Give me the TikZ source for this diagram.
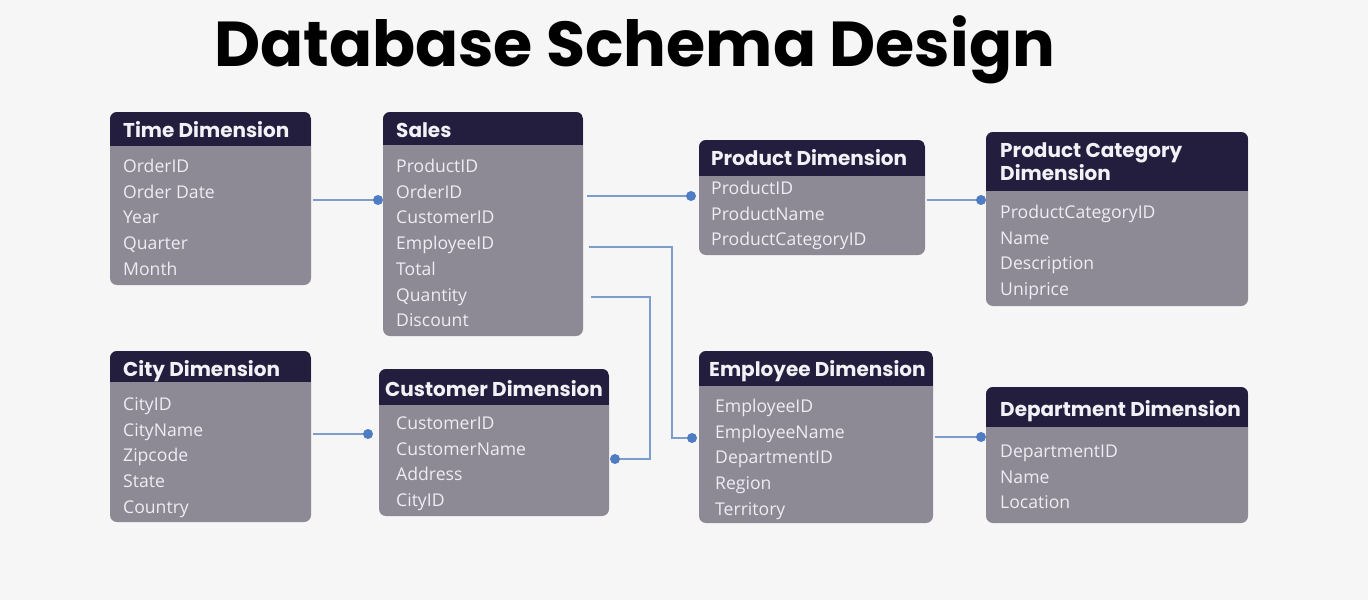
\documentclass[tikz,border=0pt]{standalone}
\usepackage{fontspec}
\setmainfont{Open Sans}
\newfontfamily\headfont{Poppins}
\definecolor{bg}{HTML}{F6F6F7}
\definecolor{tblbody}{HTML}{8D8995}
\definecolor{tblhead}{HTML}{241E3E}
\definecolor{fieldtxt}{HTML}{EEEDF2}
\definecolor{headtxt}{HTML}{F2F1F6}
\definecolor{linkc}{HTML}{7D9DCB}
\definecolor{dotc}{HTML}{4F7CC2}

% one row node per field, 25.7pt apart
\newcommand\fieldrows[4]{%
  \foreach \t [count=\i] in {#4}{%
    \node[field] (#1-\i) at (#2,{#3+25.7*(\i-1)}) {\t};}}

\begin{document}
\begin{tikzpicture}[x=1pt,y=-1pt,
  tbl/.style={anchor=north west, inner sep=0pt, outer sep=0pt, fill=tblbody,
    rounded corners=7pt,
    path picture={\fill[tblhead, sharp corners]
      ([yshift=1pt]path picture bounding box.north west) rectangle
      ([yshift=-#1pt]path picture bounding box.north east);}},
  head/.style={anchor=base west, inner sep=0pt, text=headtxt,
    font=\headfont\bfseries\fontsize{20}{24}\selectfont},
  field/.style={anchor=base west, inner sep=0pt, text=fieldtxt,
    font=\fontsize{17.6}{20}\selectfont},
  title/.style={anchor=base, inner sep=0pt, text=black,
    font=\headfont\bfseries\fontsize{63.5}{72}\selectfont},
  link/.style={draw=linkc, line width=2.4pt},
  dot/.style={fill=dotc}
]
% canvas
\fill[bg] (0,0) rectangle (1368,600);
\useasboundingbox (0,0) rectangle (1368,600);

\node[title] (title) at (634.5,66.7) {Database Schema Design};

% tables
\node[tbl={34}, minimum width=201pt, minimum height=173pt] (time)  at (110,112) {};
\node[tbl={33}, minimum width=200pt, minimum height=224pt] (sales) at (383,112) {};
\node[tbl={36}, minimum width=226pt, minimum height=115pt] (prod)  at (699,140) {};
\node[tbl={59}, minimum width=262pt, minimum height=174pt] (pcat)  at (986,132) {};
\node[tbl={31}, minimum width=201pt, minimum height=171pt] (city)  at (110,351) {};
\node[tbl={36}, minimum width=230pt, minimum height=147pt] (cust)  at (379,369) {};
\node[tbl={35}, minimum width=234pt, minimum height=172pt] (emp)   at (699,351) {};
\node[tbl={40}, minimum width=262pt, minimum height=136pt] (dept)  at (986,387) {};

% table titles
\node[head] (time-h)  at (123,137)  {Time Dimension};
\node[head] (sales-h) at (396,137)  {Sales};
\node[head] (prod-h)  at (711,165)  {Product Dimension};
\node[head] (pcat-h)  at (1000,157) {Product Category};
\node[head] (pcat-h2) at (1000,180) {Dimension};
\node[head] (city-h)  at (123,376)  {City Dimension};
\node[head] (cust-h)  at (385,396)  {Customer Dimension};
\node[head] (emp-h)   at (709,376)  {Employee Dimension};
\node[head] (dept-h)  at (1000,416) {Department Dimension};

% fields
\fieldrows{timef}{123}{172.5}{OrderID,Order Date,Year,Quarter,Month}
\fieldrows{salesf}{396}{172.5}{ProductID,OrderID,CustomerID,EmployeeID,Total,Quantity,Discount}
\fieldrows{prodf}{711}{194.5}{ProductID,ProductName,ProductCategoryID}
\fieldrows{pcatf}{1000}{218.5}{ProductCategoryID,Name,Description,Uniprice}
\fieldrows{cityf}{123}{410.5}{CityID,CityName,Zipcode,State,Country}
\fieldrows{custf}{396}{429.5}{CustomerID,CustomerName,Address,CityID}
\fieldrows{empf}{715}{412.5}{EmployeeID,EmployeeName,DepartmentID,Region,Territory}
\fieldrows{deptf}{1000}{457.5}{DepartmentID,Name,Location}

% connector end points
\coordinate (e1) at (378,200);
\coordinate (e2) at (691,196);
\coordinate (e3) at (981,200);
\coordinate (e4) at (692,438);
\coordinate (e5) at (615,459);
\coordinate (e6) at (368,434);
\coordinate (e7) at (981,437);
\coordinate (s4) at (589,247);
\coordinate (s5) at (591,297);

% connectors
\draw[link] ([xshift=2pt]time.east |- e1) -- (e1);
\draw[link] ([xshift=4pt]sales.east |- e2) -- (e2);
\draw[link] ([xshift=2pt]prod.east |- e3) -- (e3);
\draw[link] (s4) -- (672,247) -- (672,438) -- (e4);
\draw[link] (s5) -- (650,297) -- (650,459) -- (e5);
\draw[link] ([xshift=2pt]city.east |- e6) -- (e6);
\draw[link] ([xshift=2pt]emp.east |- e7) -- (e7);

\foreach \p in {e1,e2,e3,e4,e5,e6,e7}
  \fill[dot] (\p) circle (5pt);
\end{tikzpicture}
\end{document}
